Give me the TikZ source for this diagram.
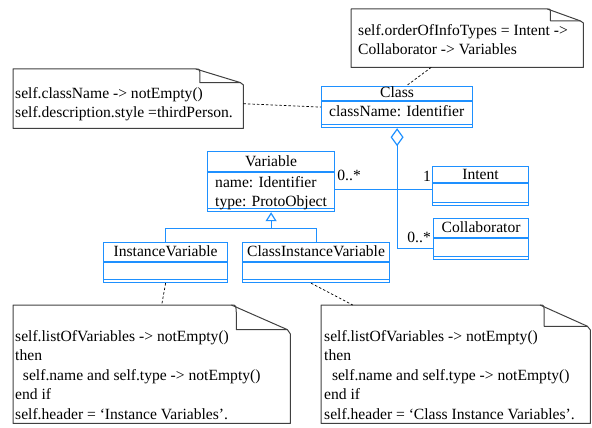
\documentclass[tikz,border=0pt]{standalone}
\usepackage{fontspec}
\setmainfont{Liberation Serif}
\usetikzlibrary{arrows.meta, positioning, calc}
\definecolor{umlBlue}{RGB}{30,144,255}
\definecolor{noteInk}{RGB}{64,64,64}

% class box: name, x, y, width, title height, attribute height, title, attributes
\newcommand{\umlclass}[8]{%
  \node[classbox, anchor=north west, minimum width=#4, minimum height=#5+#6+4] (#1) at (#2,#3) {};
  \draw[classline] ([yshift=-#5]#1.north west) -- ([yshift=-#5]#1.north east);
  \draw[classline] ([yshift=4]#1.south west) -- ([yshift=4]#1.south east);
  \node[inner sep=0pt, text height=10pt, text depth=3pt] (#1-name) at ([yshift=-#5/2-1]#1.north) {#7};
  \node[anchor=north west, align=left, inner sep=0pt] (#1-attrs) at ([xshift=8, yshift=-#5-4]#1.north west) {#8};
}
% note box with folded corner: name, x, y, width, height, fold width, fold height
\newcommand{\umlnote}[7]{%
  \node[notebox, anchor=north west, minimum width=#4, minimum height=#5] (#1) at (#2,#3) {};
  \draw[noteedge] (#1.south west) -- (#1.north west) -- ([xshift=-0.72*#6]#1.north east)
    -- ([xshift=-3, yshift=-0.85*#7]#1.north east) -- ([yshift=-#7]#1.north east) -- (#1.south east) -- cycle;
  \draw[noteedge] ([xshift=-0.72*#6]#1.north east) .. controls ([xshift=-0.66*#6]#1.north east) ..
    ([xshift=-0.66*#6, yshift=-0.4*#7]#1.north east) -- ([xshift=-0.66*#6, yshift=-0.85*#7]#1.north east)
    -- ([xshift=-3, yshift=-0.85*#7]#1.north east);
}

\begin{document}
\begin{tikzpicture}[x=1pt, y=-1pt,
    font=\fontsize{15.6}{19.5}\selectfont,
    classbox/.style={draw=umlBlue, line width=1.2pt, inner sep=0pt},
    classline/.style={draw=umlBlue, line width=1.2pt},
    notebox/.style={inner sep=0pt},
    noteedge/.style={draw=noteInk, line width=1pt, line join=round},
    notetext/.style={anchor=north west, align=left, inner sep=0pt},
    dashline/.style={draw=black, line width=0.7pt, dash pattern=on 2.5pt off 2pt},
    mult/.style={inner sep=0pt}
  ]
  \useasboundingbox (0,0) rectangle (592,428);

  % classes
  \umlclass{cls}{321}{86}{151}{15}{22}{Class}{className: Identifier}
  \umlclass{var}{207}{151}{127}{21}{35}{Variable}{name: Identifier\\type: ProtoObject}
  \umlclass{intent}{432}{166}{96}{17}{18}{Intent}{}
  \umlclass{collab}{433}{218}{95}{20}{17}{Collaborator}{}
  \umlclass{ivar}{103}{242}{124}{20}{16}{InstanceVariable}{}
  \umlclass{civar}{242}{242}{147}{20}{16}{ClassInstanceVariable}{}

  % notes
  \umlnote{noteorder}{351}{9}{232}{58}{50}{14}
  \node[notetext] (noteorder-text) at ([xshift=7, yshift=-15]noteorder.north west)
    {self.orderOfInfoTypes = Intent ->\\Collaborator -> Variables};
  \umlnote{notecls}{13}{69}{230}{59}{66}{16}
  \node[notetext] (notecls-text) at ([xshift=2, yshift=-18]notecls.north west)
    {self.className -> notEmpty()\\self.description.style =thirdPerson.};
  \umlnote{noteiv}{13}{305}{277}{118}{82}{29}
  \node[notetext] (noteiv-text) at ([xshift=2, yshift=-25]noteiv.north west)
    {self.listOfVariables -> notEmpty()\\then\\~~self.name and self.type -> notEmpty()\\end if\\self.header = `Instance Variables'.};
  \umlnote{notecv}{321}{305}{269}{118}{70}{25}
  \node[notetext] (notecv-text) at ([xshift=3, yshift=-25]notecv.north west)
    {self.listOfVariables -> notEmpty()\\then\\~~self.name and self.type -> notEmpty()\\end if\\self.header = `Class Instance Variables'.};

  % note links
  \draw[dashline] ([xshift=-36]noteorder.south) -- ([xshift=9]cls.north);
  \draw[dashline] ([yshift=-5]notecls.east) -- (cls.west);
  \draw[dashline] (ivar.south) -- ([xshift=10]noteiv.north);
  \draw[dashline] ([xshift=-5]civar.south) -- ([xshift=-103]notecv.north);

  % associations
  \draw[classline, {Diamond[open, length=18pt, width=13pt]}-] (cls.south) |- ($(collab.west)+(0,9)$);
  \draw[classline] ($(intent.west -| var.east)+(0,3.5)$) -- ($(intent.west)+(0,3.5)$);
  \node[mult, anchor=base west] (mvar) at ($(intent.west -| var.east)+(2,-6)$) {0..*};
  \node[mult, anchor=base east] (mintent) at ($(intent.west)+(-1,-4.5)$) {1};
  \node[mult, anchor=base east] (mcollab) at ($(collab.west)+(-2,3.5)$) {0..*};

  % inheritance
  \coordinate (genj) at ($(var.south)+(0,16)$);
  \draw[classline, -{Triangle[open, length=9pt, width=11pt]}] (genj) -- (var.south);
  \draw[classline] (ivar.north) |- (genj) -| (civar.north);
\end{tikzpicture}
\end{document}
